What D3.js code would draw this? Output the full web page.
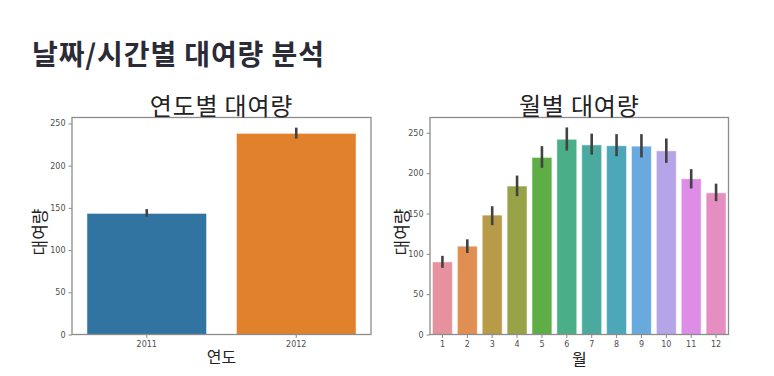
<!DOCTYPE html>
<html><head><meta charset="utf-8">
<script src="https://cdn.jsdelivr.net/npm/d3@7"></script>
<style>body{margin:0;background:#fff;} svg{display:block;font-family:"Noto Sans CJK KR","Noto Sans",sans-serif;}</style>
</head><body>
<svg id="c" width="774" height="376"></svg>
<script>
const years = ["2011", "2012"];
const yearValues = [143.4, 238.2];
const yearErrLow = [139.5, 232];
const yearErrHigh = [148.5, 245];
const yearColors = ["#3274a1", "#e1812c"];
const yearTicks = [0, 50, 100, 150, 200, 250];

const months = ["1","2","3","4","5","6","7","8","9","10","11","12"];
const monthValues = [90.0, 109.5, 148, 184, 219.5, 242, 235, 234, 233.5, 227.7, 193, 175.6];
const monthErrLow = [82.6, 101, 135.5, 171.5, 206.6, 228, 223, 221, 219.5, 212.8, 181, 165.3];
const monthErrHigh = [97.5, 118, 159, 197, 233.5, 256.7, 249, 248.4, 248.4, 243, 205, 187];
const monthColors = ["#e7919e","#e08e51","#b79b48","#98a246","#5fad47","#4aae88","#4aaa9f","#4ca8b8","#69aade","#b5a4e8","#de8de6","#e68dc1"];
const monthTicks = [0, 50, 100, 150, 200, 250];

const svg = d3.select("#c");

svg.append("text").attr("x", 32).attr("y", 65)
  .attr("font-size", 28).attr("font-weight", "bold").attr("fill", "#2b2b38")
  .attr("letter-spacing", 0.9)
  .text("날짜/시간별 대여량 분석");

function panel(o) {
  const g = svg.append("g");
  const x = d3.scaleBand().domain(o.cats).range([o.x0, o.x1]).paddingInner(0.2).paddingOuter(0.1);
  const y = d3.scaleLinear().domain([0, o.ymax]).range([o.y1, o.y0]);
  g.selectAll("rect.bar").data(o.cats).join("rect")
    .attr("x", d => x(d)).attr("width", x.bandwidth())
    .attr("y", (d, i) => y(o.values[i])).attr("height", (d, i) => y(0) - y(o.values[i]))
    .attr("fill", (d, i) => o.colors[i])
    .attr("stroke", "#ffffff").attr("stroke-opacity", 0.5).attr("stroke-width", 1);
  g.selectAll("line.err").data(o.cats).join("line")
    .attr("x1", d => x(d) + x.bandwidth() / 2).attr("x2", d => x(d) + x.bandwidth() / 2)
    .attr("y1", (d, i) => y(o.lo[i])).attr("y2", (d, i) => y(o.hi[i]))
    .attr("stroke", "#424242").attr("stroke-width", 2.6);
  g.append("rect").attr("x", o.x0).attr("y", o.y0).attr("width", o.x1 - o.x0).attr("height", o.y1 - o.y0)
    .attr("fill", "none").attr("stroke", "#8c8c8c").attr("stroke-width", 1.3);
  const ya = d3.axisLeft(y).tickValues(o.ticks).tickSize(3.5).tickPadding(3);
  const yg = g.append("g").attr("transform", `translate(${o.x0},0)`).call(ya);
  const xa = d3.axisBottom(x).tickSize(3.5).tickPadding(3);
  const xg = g.append("g").attr("transform", `translate(0,${o.y1})`).call(xa);
  [yg, xg].forEach(a => {
    a.select(".domain").remove();
    a.selectAll(".tick line").attr("stroke", "#8c8c8c");
    a.selectAll(".tick text").attr("fill", "#4d4d4d").attr("font-size", 8)
      .attr("font-family", "'DejaVu Sans',sans-serif");
  });
  const cx = (o.x0 + o.x1) / 2;
  g.append("text").attr("x", cx).attr("y", 115).attr("text-anchor", "middle")
    .attr("font-size", 24).attr("fill", "#222").attr("letter-spacing", 0.8).text(o.title);
  g.append("text").attr("x", cx).attr("y", o.xlabY).attr("text-anchor", "middle")
    .attr("font-size", 16).attr("fill", "#222").text(o.xlabel);
  g.append("text").attr("transform", `translate(${o.ylabX},232) rotate(-90)`)
    .attr("text-anchor", "middle").attr("font-size", 17).attr("fill", "#222").text("대여량");
}

panel({cats: years, values: yearValues, lo: yearErrLow, hi: yearErrHigh, colors: yearColors,
  ticks: yearTicks, ymax: 257, x0: 72, x1: 371, y0: 117.5, y1: 334.5,
  title: "연도별 대여량", xlabel: "연도", xlabY: 363, ylabX: 46});
panel({cats: months, values: monthValues, lo: monthErrLow, hi: monthErrHigh, colors: monthColors,
  ticks: monthTicks, ymax: 269, x0: 430, x1: 728.5, y0: 117.5, y1: 334.5,
  title: "월별 대여량", xlabel: "월", xlabY: 365, ylabX: 408});
</script>
</body></html>
